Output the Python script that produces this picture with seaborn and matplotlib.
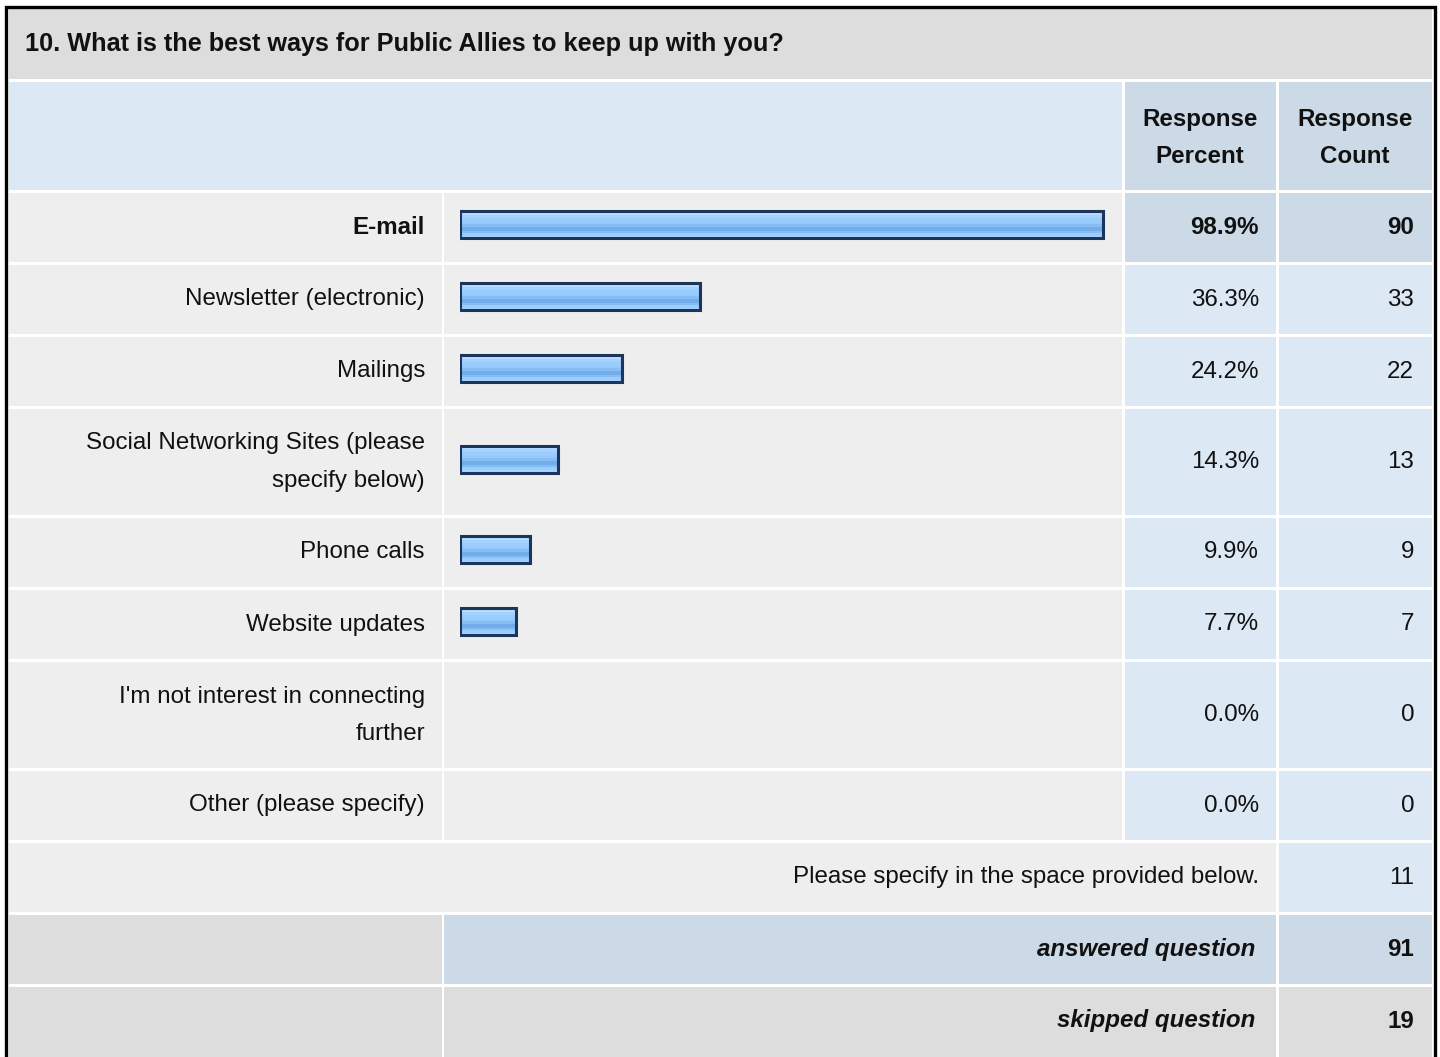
import numpy as np
import matplotlib
matplotlib.use('Agg')
import matplotlib.pyplot as plt
from matplotlib.patches import Rectangle
from matplotlib.colors import to_rgb
import seaborn as sns

sns.set_style('white')
plt.rcParams['font.family'] = ['Liberation Sans', 'DejaVu Sans']

# ---------------- datos ----------------
title = '10. What is the best ways for Public Allies to keep up with you?'
options = ['E-mail',
           'Newsletter (electronic)',
           'Mailings',
           'Social Networking Sites (please\nspecify below)',
           'Phone calls',
           'Website updates',
           "I'm not interest in connecting\nfurther",
           'Other (please specify)']
percents = [98.9, 36.3, 24.2, 14.3, 9.9, 7.7, 0.0, 0.0]
counts = [90, 33, 22, 13, 9, 7, 0, 0]
specify_text = 'Please specify in the space provided below.'
specify_count = 11
answered = 91
skipped = 19

# ---------------- layout (pixeles) ----------------
W, H = 1440, 1057
FS = 17.4
TXT = '#111111'
GREY = '#dddddd'
LIGHT = '#eeeeee'
BLUE = '#dde8f5'
BLUE2 = '#ccd9e6'

col_label = (9, 442)
col_bar = (444, 1122)
col_pct = (1125, 1276)
col_cnt = (1279, 1432)

fig = plt.figure(figsize=(W / 100, H / 100), dpi=100)
ax = fig.add_axes([0, 0, 1, 1])
ax.set_xlim(0, W)
ax.set_ylim(H, 0)
ax.axis('off')


def cell(x0, x1, y0, y1, color):
    ax.add_patch(Rectangle((x0, y0), x1 - x0, y1 - y0, color=color, lw=0))


def write(x, yc, text, ha='right', weight='normal', style='normal', size=FS):
    lines = text.split('\n')
    step = 37
    start = yc - step * (len(lines) - 1) / 2
    for i, line in enumerate(lines):
        ax.text(x, start + i * step, line, ha=ha, va='center', fontsize=size,
                fontweight=weight, fontstyle=style, color=TXT)


# titulo y cabecera
cell(9, 1432, 9, 79, GREY)
write(25, 44, title, ha='left', weight='bold', size=18.2)
cell(9, 1122, 82, 190, BLUE)
cell(*col_pct, 82, 190, BLUE2)
cell(*col_cnt, 82, 190, BLUE2)
write(1200, 138, 'Response\nPercent', ha='center', weight='bold')
write(1355, 138, 'Response\nCount', ha='center', weight='bold')

# filas de opciones
top = 193
centers = []
best = int(np.argmax(percents))
for i, (lab, p, c) in enumerate(zip(options, percents, counts)):
    h = 106 if '\n' in lab else 69
    y0, y1 = top, top + h
    yc = (y0 + y1) / 2
    centers.append(yc)
    cell(*col_label, y0, y1, LIGHT)
    cell(*col_bar, y0, y1, LIGHT)
    pc = BLUE2 if i == best else BLUE
    cell(*col_pct, y0, y1, pc)
    cell(*col_cnt, y0, y1, pc)
    w = 'bold' if i == best else 'normal'
    write(425, yc, lab, weight=w)
    write(1259, yc, f'{p:.1f}%', weight=w)
    write(1414, yc, str(c), weight=w)
    top = y1 + 3

# fila "please specify"
y0, y1 = top, top + 69
cell(9, 1276, y0, y1, LIGHT)
cell(*col_cnt, y0, y1, BLUE)
write(1259, (y0 + y1) / 2, specify_text)
write(1414, (y0 + y1) / 2, str(specify_count))
top = y1 + 3

# answered / skipped
y0, y1 = top, top + 69
cell(*col_label, y0, y1, GREY)
cell(444, 1276, y0, y1, BLUE2)
cell(*col_cnt, y0, y1, BLUE2)
write(1255, (y0 + y1) / 2, 'answered question', weight='bold', style='italic')
write(1414, (y0 + y1) / 2, str(answered), weight='bold')
top = y1 + 3
y0, y1 = top, H + 5
cell(*col_label, y0, y1, GREY)
cell(444, 1276, y0, y1, GREY)
cell(*col_cnt, y0, y1, GREY)
write(1255, (y0 + 1057) / 2 - 1, 'skipped question', weight='bold', style='italic')
write(1414, (y0 + 1057) / 2 - 1, str(skipped), weight='bold')

# marco negro
ax.plot([5.5, 5.5, 1435, 1435], [H + 5, 6.5, 6.5, H + 5], color='black',
        lw=2.4, solid_joinstyle='miter', clip_on=False)

# ---------------- barras ----------------
bax = fig.add_axes([460 / W, 0, 650 / W, 1])
sns.barplot(x=percents, y=centers, orient='h', native_scale=True,
            errorbar=None, color='#99ccff', edgecolor='#1c355a',
            linewidth=2.2, ax=bax)

stripes = ['#d2e9ff', '#b8dcff', '#a5d3ff', '#9accff', '#99ccff', '#96c9fc',
           '#86bdf3', '#72aceb', '#72aceb', '#86bdf3', '#99ccff', '#a8d4ff']
grad = np.array([to_rgb(s) for s in stripes]).reshape(len(stripes), 1, 3)

for patch in list(bax.patches):
    w = patch.get_width()
    if w <= 0:
        patch.set_visible(False)
        continue
    cy = patch.get_y() + patch.get_height() / 2
    patch.set_y(cy - 16.5)
    patch.set_height(27)
    patch.set_x(-1)
    patch.set_width(w + 1)
    patch.set_facecolor('none')
    patch.set_zorder(3)
    im = bax.imshow(grad, extent=(-1, w, cy + 10.5, cy - 16.5), aspect='auto',
                    interpolation='nearest', zorder=2)
    im.set_clip_path(patch)

bax.set_xlim(-1, 100)
bax.set_ylim(H, 0)
bax.axis('off')

fig.savefig('out.png', dpi=100, facecolor='white')
